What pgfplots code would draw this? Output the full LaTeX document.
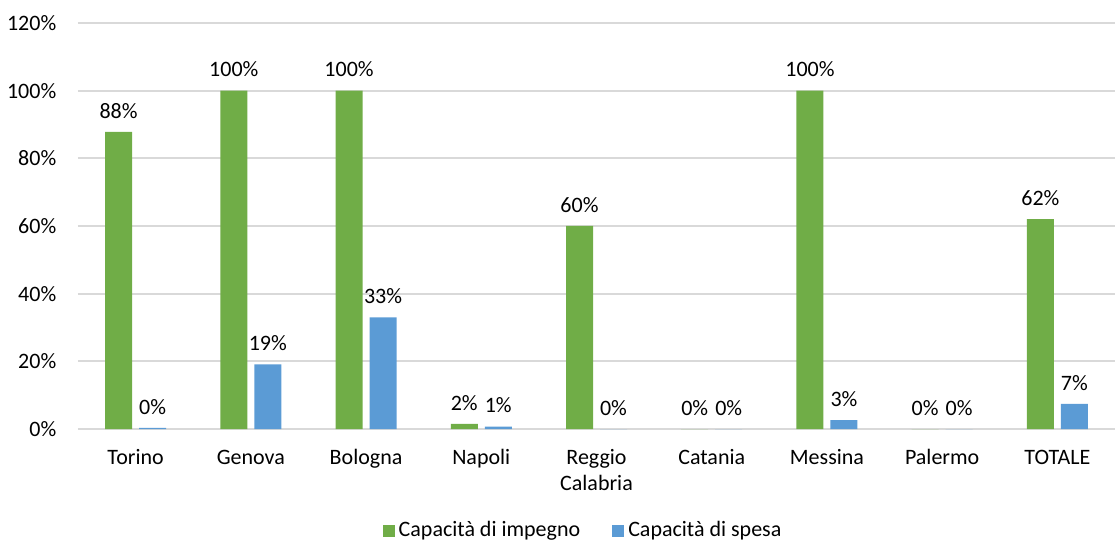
\documentclass[border=0pt]{standalone}
\usepackage{pgfplots}
\pgfplotsset{compat=1.18}
\usepackage{fontspec}
\setmainfont{Carlito}
\definecolor{impegno}{HTML}{70AD47}
\definecolor{spesa}{HTML}{5B9BD5}
\definecolor{griglia}{HTML}{D9D9D9}

\begin{document}
\fontsize{11}{13}\selectfont
\begin{tikzpicture}
    \useasboundingbox (0,0) rectangle (557.5pt,270.5pt);
    \begin{axis}[
        at={(39pt,56pt)},
        anchor=south west,
        scale only axis,
        width=518.5pt,
        height=203pt,
        ybar,
        bar width=13.5pt,
        ymin=0, ymax=120,
        ytick={0,20,...,120},
        yticklabel={\pgfmathprintnumber{\tick}\%},
        /pgf/number format/assume math mode=true,
        xmin=-0.5, xmax=8.5,
        xtick={0,...,8},
        xticklabels={Torino,Genova,Bologna,Napoli,{Reggio\\Calabria},Catania,Messina,Palermo,TOTALE},
        typeset ticklabels with strut,
        xticklabel style={align=center, anchor=north, yshift=-5pt},
        yticklabel style={xshift=-7pt},
        major tick length=0pt,
        ymajorgrids,
        grid style={griglia, line width=0.9pt},
        axis x line*=bottom,
        axis y line*=left,
        y axis line style={draw=none},
        x axis line style={griglia, line width=0.9pt, -},
        nodes near coords={\pgfmathprintnumber[fixed,precision=0]{\pgfplotspointmeta}\%},
        nodes near coords style={font=\fontsize{11}{13}\selectfont, yshift=3pt},
        legend style={at={(0.488,-0.25)}, anchor=center, draw=none,
            legend columns=2, /tikz/every even column/.append style={column sep=14pt},
            font=\fontsize{11}{13}\selectfont},
        legend image code/.code={\fill[#1] (0pt,-3pt) rectangle (6pt,3pt);},
        clip=false,
    ]
        \addplot[fill=impegno, draw=none, bar shift=-8.5pt] coordinates {
            (0,87.8) (1,100) (2,100) (3,1.5) (4,60) (5,0) (6,100) (7,0) (8,62)
        };
        \addplot[fill=spesa, draw=none, bar shift=8.5pt] coordinates {
            (0,0.3) (1,19.1) (2,33) (3,0.7) (4,0) (5,0) (6,2.6) (7,0) (8,7.4)
        };
        \legend{Capacità di impegno, Capacità di spesa}
    \end{axis}
\end{tikzpicture}
\end{document}
